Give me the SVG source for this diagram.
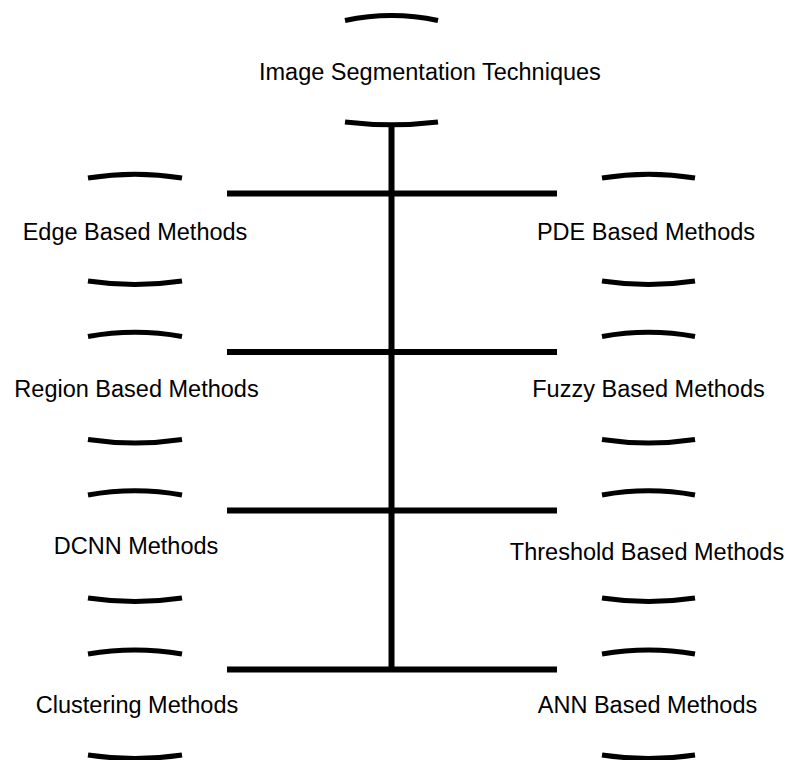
<svg xmlns="http://www.w3.org/2000/svg" width="790" height="760" viewBox="0 0 790 760">
<style>
.arc{fill:none;stroke:#000;stroke-width:5}
.ln{fill:none;stroke:#000;stroke-width:6}
text{font-family:"Liberation Sans",Arial,sans-serif;font-size:23.5px;fill:#000}
.c{text-anchor:middle}
</style>
<rect width="790" height="760" fill="#fff"/>
<g id="connectors">
<line class="ln" x1="391.5" y1="124" x2="391.5" y2="672"/>
<line class="ln" x1="227" y1="193.5" x2="557" y2="193.5"/>
<line class="ln" x1="227" y1="352" x2="557" y2="352"/>
<line class="ln" x1="227" y1="510.5" x2="557" y2="510.5"/>
<line class="ln" x1="227" y1="669.5" x2="557" y2="669.5"/>
</g>
<g id="root">
<path class="arc" d="M345 20.5 Q391.5 10.5 438 20.5"/>
<path class="arc" d="M345 122 Q391.5 127.5 438 122"/>
<text x="259" y="80">Image Segmentation Techniques</text>
</g>
<g id="edge">
<path class="arc" d="M88 178 Q135 170.5 182 178"/>
<path class="arc" d="M88 281 Q135 288 182 281"/>
<text class="c" x="135" y="240">Edge Based Methods</text>
</g>
<g id="pde">
<path class="arc" d="M602 178 Q648.5 170.5 695 178"/>
<path class="arc" d="M602 281 Q648.5 288 695 281"/>
<text class="c" x="646" y="240">PDE Based Methods</text>
</g>
<g id="region">
<path class="arc" d="M88 336.5 Q135 328 182 336.5"/>
<path class="arc" d="M88 439.5 Q135 446.5 182 439.5"/>
<text class="c" x="136.5" y="396.5">Region Based Methods</text>
</g>
<g id="fuzzy">
<path class="arc" d="M602 336.5 Q648.5 328 695 336.5"/>
<path class="arc" d="M602 439.5 Q648.5 446.5 695 439.5"/>
<text class="c" x="648.5" y="396.5">Fuzzy Based Methods</text>
</g>
<g id="dcnn">
<path class="arc" d="M88 495 Q135 486.5 182 495"/>
<path class="arc" d="M88 598 Q135 605 182 598"/>
<text class="c" x="136" y="554">DCNN Methods</text>
</g>
<g id="threshold">
<path class="arc" d="M602 495 Q648.5 486.5 695 495"/>
<path class="arc" d="M602 598 Q648.5 605 695 598"/>
<text class="c" x="647" y="560">Threshold Based Methods</text>
</g>
<g id="clustering">
<path class="arc" d="M88 654 Q135 646 182 654"/>
<path class="arc" d="M88 755 Q135 762 182 755"/>
<text class="c" x="137" y="713">Clustering Methods</text>
</g>
<g id="ann">
<path class="arc" d="M602 654 Q648.5 646 695 654"/>
<path class="arc" d="M602 755 Q648.5 762 695 755"/>
<text class="c" x="647.5" y="713">ANN Based Methods</text>
</g>
</svg>
